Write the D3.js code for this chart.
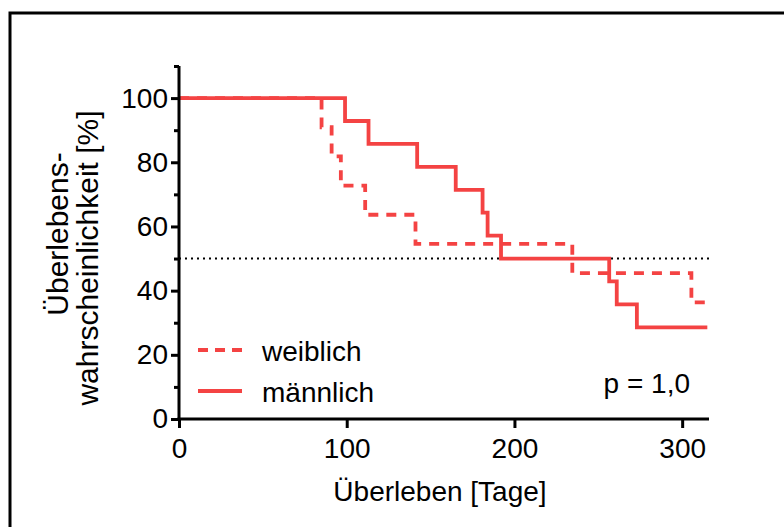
<!DOCTYPE html>
<html><head><meta charset="utf-8">
<script src="https://cdn.jsdelivr.net/npm/d3@7"></script>
<style>body{margin:0;background:#fff;} svg{display:block;} text{font-family:"Liberation Sans",Arial,sans-serif;}</style>
</head><body>
<svg id="c" width="784" height="527"></svg>
<script>
// Kaplan-Meier steps: [day, survival %]
const weiblichSteps = [[0,100],[85,90.91],[91,81.82],[96.5,72.73],[111,63.64],[141,54.55],[234.5,45.45],[305.5,36.36],[315,36.36]];
const maennlichSteps = [[0,100],[99,92.86],[113,85.71],[142,78.57],[165,71.43],[181,64.29],[184,57.14],[192,50],[256.5,42.86],[261,35.71],[273,28.57],[315,28.57]];
const xTicks = [0,100,200,300];
const yTicks = [0,20,40,60,80,100];
const yMinor = [10,30,50,70,90,110];
const legendLabels = ["weiblich","männlich"];
const pText = "p = 1,0";
const xTitle = "Überleben [Tage]";
const yTitle = ["Überlebens-","wahrscheinlichkeit [%]"];

const red = "#f44343";
const FS = 28;
const svg = d3.select("#c");
// frame
svg.append("rect").attr("x",10).attr("y",13).attr("width",800).attr("height",600)
  .attr("fill","none").attr("stroke","#000").attr("stroke-width",3);

const x = d3.scaleLinear().domain([0,316]).range([179,709]);
const y = d3.scaleLinear().domain([0,110]).range([419,66]);

// median line
svg.append("line").attr("x1",x(0)).attr("x2",x(316)).attr("y1",y(50)).attr("y2",y(50))
  .attr("stroke","#000").attr("stroke-width",2).attr("stroke-dasharray","2,4");

const line = d3.line().x(d=>x(d[0])).y(d=>y(d[1])).curve(d3.curveStepAfter);
svg.append("path").datum(weiblichSteps).attr("d",line).attr("fill","none")
  .attr("stroke",red).attr("stroke-width",3.8).attr("stroke-dasharray","10,8");
svg.append("path").datum(maennlichSteps).attr("d",line).attr("fill","none")
  .attr("stroke",red).attr("stroke-width",3.8);

// axes
const gy = svg.append("g").attr("transform",`translate(${x(0)},0)`);
gy.call(d3.axisLeft(y).tickValues(yTicks).tickSize(8).tickSizeOuter(0).tickPadding(3));
const gym = svg.append("g").attr("transform",`translate(${x(0)},0)`);
gym.call(d3.axisLeft(y).tickValues(yMinor).tickSize(5).tickSizeOuter(0).tickFormat(""));
gym.select(".domain").remove();
const gx = svg.append("g").attr("transform",`translate(0,${y(0)})`);
gx.call(d3.axisBottom(x).tickValues(xTicks).tickSize(9).tickSizeOuter(0).tickPadding(10));
[gy,gym,gx].forEach(g=>{
  g.selectAll(".domain").attr("stroke","#000").attr("stroke-width",3);
  g.selectAll(".tick line").attr("stroke","#000").attr("stroke-width",3);
  g.selectAll("text").attr("font-size",FS).attr("fill","#000")
    .attr("font-family","'Liberation Sans',Arial,sans-serif");
});
gy.select(".domain").attr("d",`M0,${y(110)}V${y(0)+1.5}`);
gx.select(".domain").attr("d",`M${x(0)-1.5},0H${x(316)}`);

// titles
svg.append("text").attr("x",440).attr("y",501).attr("text-anchor","middle")
  .attr("font-size",FS).text(xTitle);
svg.append("text").attr("transform","translate(68,234) rotate(-90)").attr("text-anchor","middle")
  .attr("font-size",30).text(yTitle[0]);
svg.append("text").attr("transform","translate(98,258) rotate(-90)").attr("text-anchor","middle")
  .attr("font-size",30).text(yTitle[1]);

// legend
const lg = svg.append("g");
[0,1].forEach(i=>{
  const yy = 350 + i*41;
  lg.append("line").attr("x1",198).attr("x2",242).attr("y1",yy).attr("y2",yy)
    .attr("stroke",red).attr("stroke-width",3.8).attr("stroke-dasharray", i===0?"10,7":null);
  lg.append("text").attr("x",262).attr("y",yy+11).attr("font-size",FS).text(legendLabels[i]);
});
svg.append("text").attr("x",690).attr("y",393).attr("text-anchor","end").attr("font-size",FS).text(pText);
</script>
</body></html>
